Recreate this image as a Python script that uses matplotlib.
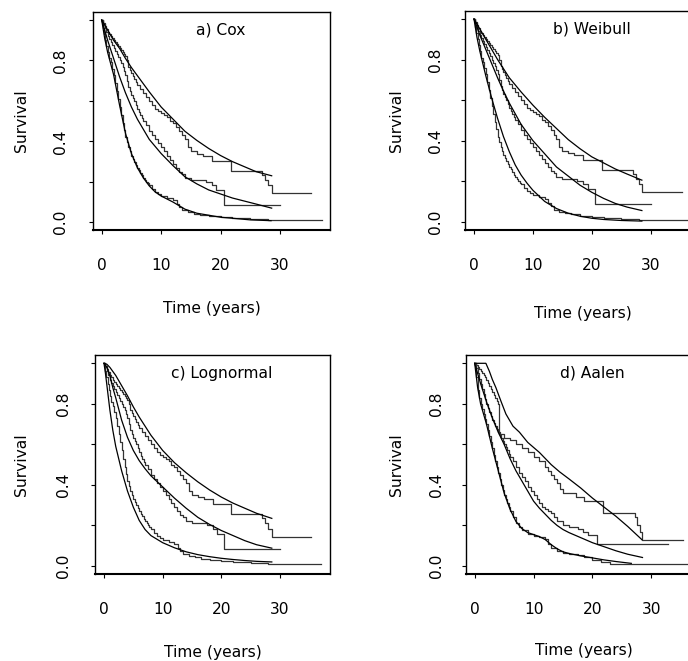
import matplotlib
matplotlib.use("Agg")
import matplotlib.pyplot as plt

plt.rcParams['font.family'] = ['DejaVu Sans']

# ---------------- Kaplan-Meier estimates, panels a-c ----------------
km_lo_t = [0, 0.2, 0.4, 0.6, 0.8, 1.0, 1.25, 1.5, 1.75, 2.0, 2.25, 2.5, 2.75, 3.0, 3.25,
           3.5, 3.75, 4.0, 4.25, 4.5, 4.75, 5.0, 5.25, 5.5, 5.75, 6.0, 6.25, 6.5, 6.75, 7.0,
           7.25, 7.5, 7.75, 8.0, 8.5, 9.0, 9.5, 10.0, 11.0, 12.0, 12.6, 13.0, 13.5, 14.5, 15.5,
           16.5, 18.0, 20.0, 22.0, 25.0, 28.0, 37.0]
km_lo_s = [1.0, 0.96, 0.93, 0.90, 0.87, 0.84, 0.81, 0.79, 0.76, 0.73, 0.69, 0.65, 0.61, 0.57, 0.53,
           0.49, 0.455, 0.42, 0.395, 0.37, 0.35, 0.33, 0.315, 0.30, 0.285, 0.27, 0.258, 0.245,
           0.232, 0.22, 0.21, 0.20, 0.192, 0.185, 0.165, 0.15, 0.14, 0.13, 0.12, 0.11, 0.09,
           0.075, 0.06, 0.05, 0.043, 0.037, 0.03, 0.025, 0.02, 0.015, 0.01, 0.01]

km_mid_t = [0, 0.25, 0.5, 0.75, 1.0, 1.25, 1.5, 1.75, 2.0, 2.25, 2.5, 2.75, 3.0, 3.25, 3.5,
            3.75, 4.0, 4.25, 4.5, 4.75, 5.0, 5.25, 5.5, 5.75, 6.0, 6.25, 6.5, 6.75, 7.0, 7.5,
            8.0, 8.5, 9.0, 9.5, 10.0, 10.5, 11.0, 11.5, 12.0, 12.5, 13.0, 13.5, 14.0, 15.0,
            17.5, 18.5, 19.3, 20.5, 30.0]
km_mid_s = [1.0, 0.98, 0.96, 0.94, 0.92, 0.905, 0.89, 0.875, 0.86, 0.845, 0.83, 0.815, 0.80,
            0.785, 0.77, 0.75, 0.73, 0.70, 0.67, 0.65, 0.63, 0.615, 0.60, 0.58, 0.56, 0.545,
            0.53, 0.515, 0.50, 0.48, 0.45, 0.43, 0.41, 0.39, 0.37, 0.35, 0.33, 0.31, 0.29, 0.27,
            0.25, 0.24, 0.22, 0.21, 0.20, 0.185, 0.16, 0.085, 0.085]

km_hi_t = [0, 0.25, 0.5, 0.75, 1.0, 1.25, 1.5, 1.75, 2.0, 2.25, 2.5, 2.75, 3.0, 3.25, 3.5,
           3.75, 4.0, 4.25, 4.5, 4.75, 5.0, 5.25, 5.5, 5.75, 6.0, 6.5, 7.0, 7.5, 8.0, 8.5, 9.0,
           9.5, 10.0, 10.5, 11.0, 11.5, 12.0, 12.5, 13.0, 13.5, 14.0, 14.5, 15.0, 16.0, 17.0,
           18.5, 21.7, 27.0, 27.5, 28.0, 28.6, 35.3]
km_hi_s = [1.0, 0.985, 0.97, 0.955, 0.94, 0.93, 0.92, 0.91, 0.90, 0.89, 0.88, 0.87, 0.86, 0.85,
           0.84, 0.83, 0.82, 0.80, 0.77, 0.755, 0.74, 0.725, 0.71, 0.695, 0.68, 0.66, 0.64, 0.62,
           0.60, 0.58, 0.56, 0.55, 0.54, 0.53, 0.52, 0.50, 0.49, 0.47, 0.45, 0.43, 0.41, 0.37,
           0.35, 0.34, 0.33, 0.305, 0.255, 0.235, 0.21, 0.185, 0.145, 0.145]

# ---------------- Kaplan-Meier estimates, panel d ----------------
kmd_lo_t = [0, 0.25, 0.5, 0.75, 1.0, 1.25, 1.5, 1.75, 2.0, 2.25, 2.5, 2.75, 3.0, 3.25, 3.5,
            3.75, 4.0, 4.25, 4.5, 4.75, 5.0, 5.25, 5.5, 5.75, 6.0, 6.5, 7.0, 7.5, 8.0, 9.0,
            10.0, 11.0, 12.0, 12.5, 13.0, 14.0, 15.0, 16.0, 17.5, 18.5, 20.0, 21.5, 23.0, 28.0,
            40.0]
kmd_lo_s = [1.0, 0.93, 0.87, 0.83, 0.80, 0.775, 0.75, 0.725, 0.70, 0.67, 0.64, 0.61, 0.58,
            0.55, 0.52, 0.49, 0.46, 0.43, 0.40, 0.375, 0.35, 0.33, 0.31, 0.29, 0.27, 0.24, 0.21,
            0.19, 0.18, 0.16, 0.15, 0.145, 0.135, 0.11, 0.09, 0.075, 0.065, 0.058, 0.053, 0.046,
            0.03, 0.02, 0.012, 0.008, 0.008]

kmd_mid_t = [0, 0.25, 0.5, 0.75, 1.0, 1.25, 1.5, 1.75, 2.0, 2.25, 2.5, 2.75, 3.0, 3.25, 3.5,
             3.75, 4.0, 4.25, 4.5, 4.75, 5.0, 5.25, 5.5, 5.75, 6.0, 6.5, 7.0, 7.5, 8.0, 8.5,
             9.0, 9.5, 10.0, 10.5, 11.0, 11.5, 12.0, 12.5, 13.0, 13.5, 14.0, 15.0, 16.0, 17.5,
             18.4, 19.2, 20.7, 32.8]
kmd_mid_s = [1.0, 0.975, 0.95, 0.925, 0.90, 0.875, 0.85, 0.825, 0.80, 0.78, 0.76, 0.74, 0.72,
             0.705, 0.69, 0.675, 0.66, 0.645, 0.63, 0.615, 0.60, 0.585, 0.57, 0.555, 0.54, 0.52,
             0.49, 0.46, 0.44, 0.42, 0.39, 0.37, 0.35, 0.33, 0.31, 0.29, 0.28, 0.27, 0.26, 0.24,
             0.22, 0.20, 0.19, 0.185, 0.17, 0.155, 0.107, 0.107]

kmd_hi_t = [0, 0.25, 0.5, 0.75, 1.0, 1.25, 1.5, 1.75, 2.0, 2.25, 2.5, 2.75, 3.0, 3.25, 3.5,
            3.75, 4.0, 4.1, 5.0, 6.0, 7.0, 8.0, 9.0, 10.0, 11.0, 12.0, 12.5, 13.0, 13.5, 14.0,
            14.5, 15.0, 17.2, 18.5, 21.8, 27.2, 27.6, 28.0, 28.5, 35.3]
kmd_hi_s = [1.0, 0.99, 0.98, 0.97, 0.96, 0.95, 0.94, 0.93, 0.92, 0.905, 0.89, 0.875, 0.86,
            0.845, 0.83, 0.815, 0.80, 0.65, 0.63, 0.62, 0.60, 0.58, 0.56, 0.54, 0.52, 0.49, 0.47,
            0.45, 0.43, 0.41, 0.38, 0.36, 0.34, 0.32, 0.26, 0.24, 0.20, 0.17, 0.13, 0.13]

# ---------------- Fitted curves ----------------
cox_hi_t = [0, 1, 2, 3, 4, 5, 6, 7, 8, 10, 12, 14, 16, 18, 20, 22, 24, 26, 28.6]
cox_hi_s = [1.0, 0.95, 0.90, 0.86, 0.81, 0.765, 0.725, 0.685, 0.645, 0.57, 0.51, 0.45, 0.405,
            0.365, 0.33, 0.30, 0.275, 0.25, 0.23]
cox_mid_t = [0, 1, 2, 3, 4, 5, 6, 7, 8, 10, 12, 14, 16, 18, 20, 22, 24, 26, 28.6]
cox_mid_s = [1.0, 0.90, 0.81, 0.72, 0.64, 0.57, 0.51, 0.46, 0.41, 0.34, 0.28, 0.225, 0.19, 0.16,
             0.14, 0.12, 0.105, 0.09, 0.07]
cox_lo_t = [0, 0.5, 1, 2, 3, 4, 5, 6, 7, 8, 9, 10, 12, 14, 16, 18, 20, 22, 25, 28.5]
cox_lo_s = [1.0, 0.91, 0.84, 0.73, 0.58, 0.44, 0.34, 0.27, 0.22, 0.18, 0.15, 0.13, 0.10, 0.065,
            0.045, 0.035, 0.025, 0.02, 0.012, 0.008]

wb_hi_t = [0, 1, 2, 3, 4, 5, 6, 8, 10, 12, 14, 16, 18, 20, 22, 24, 26, 28.5]
wb_hi_s = [1.0, 0.95, 0.90, 0.85, 0.80, 0.755, 0.71, 0.64, 0.575, 0.515, 0.46, 0.405, 0.36,
           0.32, 0.29, 0.26, 0.235, 0.205]
wb_mid_t = [0, 1, 2, 3, 4, 5, 6, 8, 10, 12, 14, 16, 18, 20, 22, 24, 26, 28.5]
wb_mid_s = [1.0, 0.92, 0.85, 0.78, 0.71, 0.645, 0.585, 0.48, 0.40, 0.335, 0.27, 0.225, 0.18,
            0.145, 0.115, 0.09, 0.072, 0.055]
wb_lo_t = [0, 0.5, 1, 2, 3, 4, 5, 6, 7, 8, 9, 10, 12, 14, 16, 18, 20, 22, 25, 28.5]
wb_lo_s = [1.0, 0.91, 0.84, 0.72, 0.61, 0.51, 0.42, 0.345, 0.28, 0.23, 0.19, 0.155, 0.10, 0.065,
           0.042, 0.027, 0.017, 0.011, 0.006, 0.003]

ln_hi_t = [0, 0.5, 1, 1.5, 2, 3, 4, 5, 6, 7, 8, 10, 12, 14, 16, 18, 20, 22, 24, 26, 28.6]
ln_hi_s = [1.0, 0.995, 0.98, 0.96, 0.94, 0.89, 0.84, 0.785, 0.735, 0.69, 0.645, 0.57, 0.51,
           0.46, 0.415, 0.375, 0.34, 0.31, 0.285, 0.26, 0.235]
ln_mid_t = [0, 0.5, 1, 1.5, 2, 3, 4, 5, 6, 7, 8, 10, 12, 14, 16, 18, 20, 22, 24, 26, 28.6]
ln_mid_s = [1.0, 0.98, 0.94, 0.88, 0.83, 0.72, 0.635, 0.57, 0.52, 0.48, 0.445, 0.39, 0.335,
            0.285, 0.24, 0.205, 0.175, 0.15, 0.125, 0.105, 0.088]
ln_lo_t = [0, 0.25, 0.5, 1, 1.5, 2, 3, 4, 5, 6, 7, 8, 10, 12, 14, 16, 18, 20, 22, 24, 26, 28.6]
ln_lo_s = [1.0, 0.95, 0.89, 0.77, 0.67, 0.59, 0.47, 0.37, 0.29, 0.225, 0.18, 0.15, 0.115, 0.09,
           0.07, 0.056, 0.046, 0.038, 0.032, 0.027, 0.023, 0.02]

aa_hi_t = [0, 1.9, 2.5, 3, 3.6, 4.5, 5.3, 6.5, 7.6, 9, 11, 13, 14.4, 16, 18, 20, 22, 24, 26, 28.4]
aa_hi_s = [1.0, 1.0, 0.96, 0.92, 0.88, 0.81, 0.75, 0.69, 0.66, 0.61, 0.56, 0.50, 0.465, 0.43,
           0.385, 0.335, 0.29, 0.245, 0.195, 0.13]
aa_mid_t = [0, 1, 2, 3, 4, 5, 6, 7, 8, 9, 10, 11, 12, 13, 14, 15, 16, 18, 20, 22, 24, 26, 28.5]
aa_mid_s = [1.0, 0.90, 0.81, 0.73, 0.66, 0.60, 0.53, 0.47, 0.42, 0.37, 0.32, 0.285, 0.255, 0.225,
            0.20, 0.18, 0.165, 0.14, 0.115, 0.095, 0.075, 0.058, 0.042]
aa_lo_t = [0, 0.5, 1, 2, 3, 4, 5, 6, 7, 8, 9, 10, 11, 12, 13, 14, 15, 16, 18, 20, 22, 24, 26.6]
aa_lo_s = [1.0, 0.88, 0.80, 0.70, 0.58, 0.47, 0.36, 0.28, 0.22, 0.185, 0.165, 0.155, 0.145, 0.13,
           0.105, 0.085, 0.07, 0.062, 0.05, 0.04, 0.03, 0.022, 0.013]

panel_titles = ["a) Cox", "b) Weibull", "c) Lognormal", "d) Aalen"]
x_ticks = [0, 10, 20, 30]
x_ticklabels = ["0", "10", "20", "30"]
y_ticks = [0.0, 0.2, 0.4, 0.6, 0.8, 1.0]
y_ticklabels = ["0.0", "", "0.4", "", "0.8", ""]

km_common = [(km_hi_t, km_hi_s), (km_mid_t, km_mid_s), (km_lo_t, km_lo_s)]
km_d = [(kmd_hi_t, kmd_hi_s), (kmd_mid_t, kmd_mid_s), (kmd_lo_t, kmd_lo_s)]
fits = [
    [(cox_hi_t, cox_hi_s), (cox_mid_t, cox_mid_s), (cox_lo_t, cox_lo_s)],
    [(wb_hi_t, wb_hi_s), (wb_mid_t, wb_mid_s), (wb_lo_t, wb_lo_s)],
    [(ln_hi_t, ln_hi_s), (ln_mid_t, ln_mid_s), (ln_lo_t, ln_lo_s)],
    [(aa_hi_t, aa_hi_s), (aa_mid_t, aa_mid_s), (aa_lo_t, aa_lo_s)],
]
kms = [km_common, km_common, km_common, km_d]

# ---------------- Layout (pixels) ----------------
W, H = 688, 661
XLIM = (-1.48, 38.48)
YLIM = (-0.04, 1.04)
# (pixel of t=0, px per year, pixel of S=0, px per unit S, ylabel right px, xlabel top offset, ytick pad)
geom = [
    (101.7, 5.943, 222.3, 202.3, 28.7, 71, 15.5),
    (474.0, 5.890, 221.7, 202.7, 404.0, 76, 13.5),
    (104.0, 5.867, 566.0, 202.7, 28.7, 71, 15.0),
    (474.7, 5.887, 566.0, 202.7, 404.0, 69, 13.5),
]

FS = 11.2
fig = plt.figure(figsize=(W / 100, H / 100), dpi=100)
fig.patch.set_facecolor("white")

for i, (x0, sx, y0, sy, ylab_px, xlab_off, ypad) in enumerate(geom):
    left = x0 + XLIM[0] * sx
    width = (XLIM[1] - XLIM[0]) * sx
    top = y0 - YLIM[1] * sy
    height = (YLIM[1] - YLIM[0]) * sy
    ax = fig.add_axes([left / W, 1 - (top + height) / H, width / W, height / H])
    ax.set_xlim(*XLIM)
    ax.set_ylim(*YLIM)

    for (t, s) in kms[i]:
        ax.step(t, s, where="post", color="#333333", lw=0.9)
    for (t, s) in fits[i]:
        ax.plot(t, s, color="black", lw=0.9)

    ax.text(20, 0.95, panel_titles[i], ha="center", va="center", fontsize=FS)

    ax.set_xticks(x_ticks)
    ax.set_xticklabels(x_ticklabels)
    ax.set_yticks(y_ticks)
    ax.set_yticklabels(y_ticklabels, rotation=90, va="center")
    ax.tick_params(axis="both", direction="out", length=2.6, width=0.8, labelsize=FS)
    ax.tick_params(axis="x", pad=17.5)
    ax.tick_params(axis="y", pad=ypad)
    for side, sp in ax.spines.items():
        sp.set_linewidth(1.0)
    ax.spines["bottom"].set_linewidth(1.5)

    ax.set_xlabel("Time (years)", fontsize=FS)
    ax.set_ylabel("Survival", fontsize=FS)
    ax.xaxis.set_label_coords(0.5, -xlab_off / height)
    ax.yaxis.set_label_coords((ylab_px - left) / width, 0.5)

fig.savefig("out.png", dpi=100, facecolor="white")
